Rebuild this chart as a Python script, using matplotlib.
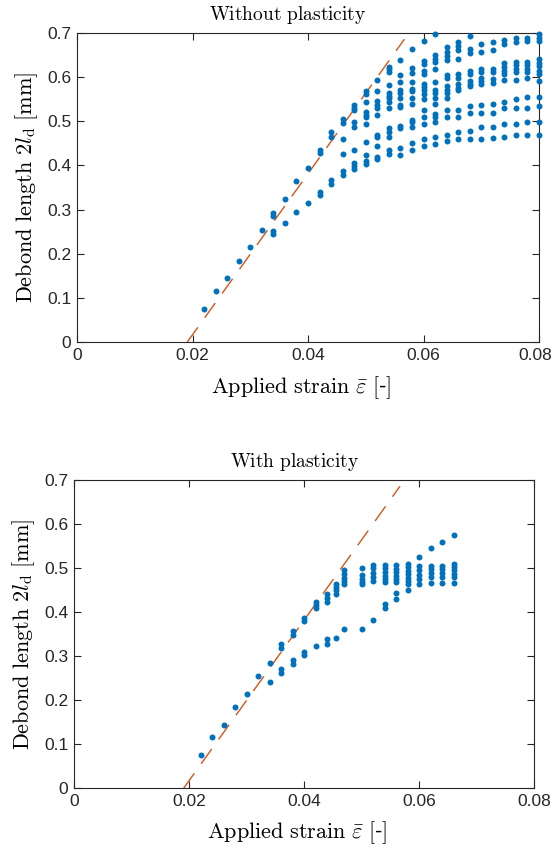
import matplotlib
matplotlib.use("Agg")
import matplotlib.pyplot as plt
from matplotlib.transforms import ScaledTranslation

plt.rcParams['mathtext.fontset'] = 'cm'
plt.rcParams['font.family'] = ['Liberation Sans', 'DejaVu Sans']

# linear estimate (dashed line)
fit_strain = [0.0191, 0.0567]
fit_length = [0.0, 0.686]

# without plasticity
top_strain = [0.022, 0.024, 0.026, 0.028, 0.030, 0.032, 0.034, 0.036, 0.038, 0.040,
              0.042, 0.044, 0.046, 0.048, 0.050, 0.052, 0.054, 0.056, 0.058, 0.060,
              0.062, 0.064, 0.066, 0.068, 0.070, 0.072, 0.074, 0.076, 0.078, 0.080]
top_debond = [
    [0.075], [0.115], [0.145], [0.184], [0.215], [0.254],
    [0.285, 0.293, 0.245, 0.252],
    [0.324, 0.270],
    [0.364, 0.295],
    [0.395, 0.314],
    [0.428, 0.436, 0.332, 0.340],
    [0.465, 0.476, 0.358, 0.366],
    [0.505, 0.495, 0.460, 0.425, 0.378, 0.388],
    [0.538, 0.531, 0.525, 0.498, 0.488, 0.435, 0.406, 0.398, 0.391],
    [0.568, 0.561, 0.544, 0.522, 0.515, 0.510, 0.494, 0.454, 0.424, 0.410, 0.404],
    [0.593, 0.569, 0.546, 0.538, 0.531, 0.514, 0.470, 0.464, 0.444, 0.420, 0.415],
    [0.624, 0.618, 0.612, 0.583, 0.565, 0.558, 0.552, 0.544, 0.529, 0.485, 0.476, 0.464, 0.434, 0.425],
    [0.639, 0.604, 0.589, 0.571, 0.564, 0.552, 0.538, 0.532, 0.489, 0.485, 0.440, 0.424],
    [0.664, 0.620, 0.610, 0.590, 0.574, 0.568, 0.553, 0.539, 0.504, 0.498, 0.488, 0.450, 0.434],
    [0.683, 0.636, 0.629, 0.615, 0.608, 0.585, 0.577, 0.570, 0.562, 0.550, 0.525, 0.509, 0.493, 0.461, 0.444],
    [0.698, 0.650, 0.642, 0.635, 0.619, 0.590, 0.570, 0.564, 0.553, 0.540, 0.517, 0.509, 0.498, 0.465, 0.449],
    [0.669, 0.657, 0.647, 0.639, 0.605, 0.599, 0.580, 0.572, 0.565, 0.553, 0.525, 0.509, 0.470, 0.455],
    [0.679, 0.670, 0.662, 0.640, 0.606, 0.599, 0.585, 0.576, 0.570, 0.525, 0.509, 0.475, 0.459],
    [0.694, 0.664, 0.655, 0.615, 0.608, 0.592, 0.585, 0.579, 0.535, 0.519, 0.479, 0.460],
    [0.674, 0.657, 0.619, 0.612, 0.599, 0.591, 0.585, 0.538, 0.519, 0.486, 0.460],
    [0.679, 0.662, 0.619, 0.612, 0.595, 0.587, 0.540, 0.519, 0.486, 0.462],
    [0.685, 0.674, 0.631, 0.623, 0.615, 0.606, 0.593, 0.544, 0.529, 0.494, 0.464],
    [0.689, 0.679, 0.635, 0.627, 0.619, 0.612, 0.593, 0.550, 0.529, 0.494, 0.470],
    [0.689, 0.682, 0.635, 0.627, 0.619, 0.612, 0.599, 0.555, 0.529, 0.499, 0.470],
    [0.697, 0.689, 0.682, 0.641, 0.633, 0.626, 0.614, 0.606, 0.591, 0.555, 0.535, 0.499, 0.470],
]

# with plasticity
bot_strain = [0.022, 0.024, 0.026, 0.028, 0.030, 0.032, 0.034, 0.036, 0.038, 0.040,
              0.042, 0.044, 0.0456, 0.047, 0.050, 0.052, 0.054, 0.056, 0.058, 0.060,
              0.062, 0.064, 0.066]
bot_debond = [
    [0.074], [0.115], [0.144], [0.184], [0.214], [0.254],
    [0.284, 0.240],
    [0.318, 0.327, 0.262, 0.270],
    [0.348, 0.356, 0.282, 0.290],
    [0.380, 0.386, 0.303, 0.309],
    [0.410, 0.417, 0.423, 0.322],
    [0.422, 0.432, 0.442, 0.328, 0.339],
    [0.464, 0.457, 0.449, 0.440, 0.342],
    [0.495, 0.487, 0.478, 0.470, 0.464, 0.361],
    [0.499, 0.483, 0.476, 0.468, 0.463, 0.361],
    [0.506, 0.499, 0.489, 0.480, 0.470, 0.381],
    [0.506, 0.499, 0.490, 0.482, 0.474, 0.468, 0.419, 0.410],
    [0.506, 0.498, 0.490, 0.482, 0.474, 0.468, 0.444, 0.429],
    [0.510, 0.502, 0.494, 0.486, 0.478, 0.470, 0.464, 0.449],
    [0.524, 0.505, 0.496, 0.485, 0.474, 0.463],
    [0.545, 0.505, 0.497, 0.488, 0.479, 0.467],
    [0.560, 0.505, 0.497, 0.488, 0.479, 0.467],
    [0.574, 0.510, 0.503, 0.495, 0.487, 0.479, 0.467],
]

xticks = [0, 0.02, 0.04, 0.06, 0.08]
xticklabels = ['0', '0.02', '0.04', '0.06', '0.08']
yticks = [0, 0.1, 0.2, 0.3, 0.4, 0.5, 0.6, 0.7]
yticklabels = ['0', '0.1', '0.2', '0.3', '0.4', '0.5', '0.6', '0.7']

blue = '#0072BD'
orange = '#D95319'
axcol = '#262626'

W, H = 553, 852
fig = plt.figure(figsize=(W / 100, H / 100), dpi=100)
ax1 = fig.add_axes([77 / W, 1 - 342 / H, 462 / W, 309 / H])
ax2 = fig.add_axes([74 / W, 1 - 788 / H, 460 / W, 308 / H])


def draw(ax, strain, debond, title, title_x):
    xs, ys = [], []
    for s, col in zip(strain, debond):
        xs += [s] * len(col)
        ys += col
    ax.plot(fit_strain, fit_length, color=orange, lw=1.0, dashes=(13, 8.5))
    ax.plot(xs, ys, 'o', color=blue, ms=4.3, mew=0, clip_on=False, zorder=3)
    ax.set_xlim(0, 0.08)
    ax.set_ylim(0, 0.7)
    ax.set_xticks(xticks)
    ax.set_xticklabels(xticklabels)
    ax.set_yticks(yticks)
    ax.set_yticklabels(yticklabels)
    ax.tick_params(direction='in', top=True, right=True, length=5, width=0.8,
                   color=axcol, labelcolor=axcol, labelsize=12.5, pad=4)
    for sp in ax.spines.values():
        sp.set_color(axcol)
        sp.set_linewidth(0.8)
    ax.set_title(r'$\mathrm{' + title.replace(' ', r'\ ') + '}$', fontsize=14,
                 pad=9.5, x=title_x)
    ax.set_xlabel(r'$\mathrm{Applied\ strain}\ \bar{\varepsilon}\ \mathrm{[}$-$\mathrm{]}$',
                  fontsize=16, labelpad=5)
    ax.xaxis.set_label_coords(0.485, -0.103)
    ax.set_ylabel(r'$\mathrm{Debond\ length}\ 2l_\mathrm{d}\ \mathrm{[mm]}$',
                  fontsize=16, labelpad=5)


draw(ax1, top_strain, top_debond, 'Without plasticity', 0.457)
draw(ax2, bot_strain, bot_debond, 'With plasticity', 0.480)

# keep the last top tick label inside the figure
last = ax1.get_xticklabels()[-1]
last.set_transform(last.get_transform() + ScaledTranslation(-3 / 72, 0, fig.dpi_scale_trans))

fig.savefig('out.png', dpi=100)
